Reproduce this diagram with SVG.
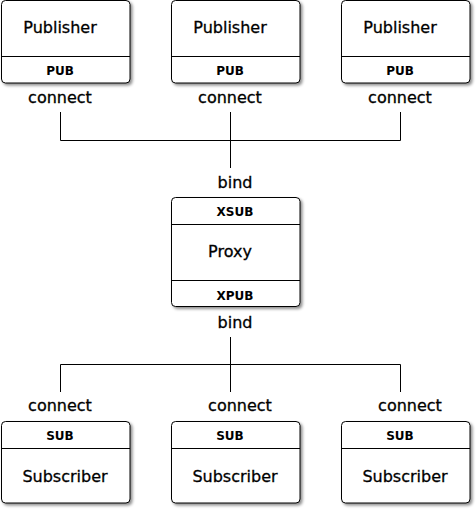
<svg xmlns="http://www.w3.org/2000/svg" width="476" height="511" viewBox="0 0 476 511">
<defs>
<filter id="sh" x="-10%" y="-10%" width="130%" height="130%">
<feDropShadow dx="2" dy="2" stdDeviation="1.5" flood-color="#000" flood-opacity="0.45"/>
</filter>
</defs>
<style>
.box{fill:#fff;stroke:#000;stroke-width:1;filter:url(#sh)}
.div{stroke:#000;stroke-width:1;fill:none}
.t{font-family:"DejaVu Sans",sans-serif;font-size:16px;fill:#000;stroke:#000;stroke-width:0.3;text-anchor:middle}
.p{font-family:"DejaVu Sans",sans-serif;font-size:12px;font-weight:bold;fill:#000;text-anchor:middle}
.c{stroke:#000;stroke-width:1;fill:none}
</style>
<rect width="476" height="511" fill="#fff"/>
<g id="connectors">
<path class="c" d="M60.5,112 V140.5 H400.5 V112 M230.5,112 V168"/>
<path class="c" d="M230.5,337 V364.5 M60.5,392 V364.5 H400.5 V392 M230.5,364.5 V392"/>
<text class="t" x="60" y="103">connect</text>
<text class="t" x="230" y="103">connect</text>
<text class="t" x="400" y="103">connect</text>
<text class="t" x="235" y="188">bind</text>
<text class="t" x="235" y="328">bind</text>
<text class="t" x="60" y="411">connect</text>
<text class="t" x="240" y="411">connect</text>
<text class="t" x="410" y="411">connect</text>
</g>
<g id="pub1">
<rect class="box" x="1.5" y="0.5" width="128.5" height="82.5" rx="4"/>
<line class="div" x1="1.5" y1="56.5" x2="130" y2="56.5"/>
<text class="t" x="60" y="33">Publisher</text>
<text class="p" x="60" y="74.5">PUB</text>
</g>
<g id="pub2">
<rect class="box" x="171.5" y="0.5" width="128.5" height="82.5" rx="4"/>
<line class="div" x1="171.5" y1="56.5" x2="300" y2="56.5"/>
<text class="t" x="230" y="33">Publisher</text>
<text class="p" x="230" y="74.5">PUB</text>
</g>
<g id="pub3">
<rect class="box" x="341.5" y="0.5" width="128.5" height="82.5" rx="4"/>
<line class="div" x1="341.5" y1="56.5" x2="470" y2="56.5"/>
<text class="t" x="400" y="33">Publisher</text>
<text class="p" x="400" y="74.5">PUB</text>
</g>
<g id="proxy">
<rect class="box" x="171.5" y="197.5" width="128.5" height="109" rx="4"/>
<line class="div" x1="171.5" y1="224.5" x2="300" y2="224.5"/>
<line class="div" x1="171.5" y1="280.5" x2="300" y2="280.5"/>
<text class="p" x="235" y="215.5">XSUB</text>
<text class="t" x="230" y="257">Proxy</text>
<text class="p" x="235" y="299.5">XPUB</text>
</g>
<g id="sub1">
<rect class="box" x="1.5" y="421.5" width="128.5" height="81.5" rx="4"/>
<line class="div" x1="1.5" y1="448.5" x2="130" y2="448.5"/>
<text class="p" x="60" y="439.5">SUB</text>
<text class="t" x="65" y="482">Subscriber</text>
</g>
<g id="sub2">
<rect class="box" x="171.5" y="421.5" width="128.5" height="81.5" rx="4"/>
<line class="div" x1="171.5" y1="448.5" x2="300" y2="448.5"/>
<text class="p" x="230" y="439.5">SUB</text>
<text class="t" x="235" y="482">Subscriber</text>
</g>
<g id="sub3">
<rect class="box" x="341.5" y="421.5" width="128.5" height="81.5" rx="4"/>
<line class="div" x1="341.5" y1="448.5" x2="470" y2="448.5"/>
<text class="p" x="400" y="439.5">SUB</text>
<text class="t" x="405" y="482">Subscriber</text>
</g>
</svg>
